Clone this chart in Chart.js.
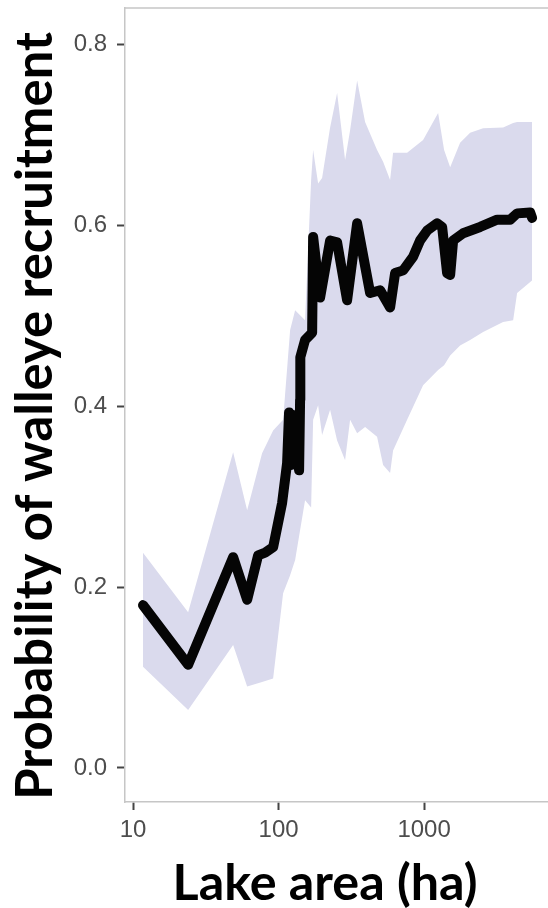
<!DOCTYPE html>
<html>
<head>
<meta charset="utf-8">
<script src="https://cdn.jsdelivr.net/npm/chart.js@4.4.1/dist/chart.umd.min.js"></script>
<style>
  html, body { margin: 0; padding: 0; background: #fff; overflow: hidden; }
  canvas { display: block; }
</style>
</head>
<body>
<canvas id="c" width="548" height="908"></canvas>
<script>
// Fitted recruitment probability along lake area (ha)
const curveArea = [11.7, 23.9, 48.7, 60.8, 72.3, 80.8, 91.7, 105.7, 114.4, 118, 121.9, 127.8, 138.3, 140.5, 141,
  152, 170, 172.7, 192.8, 225.9, 252.4, 295.6, 346.5, 425.6, 498.6, 583.7, 632, 717.4, 840, 938, 1049, 1228,
  1330, 1439, 1510, 1582, 1854, 2426, 3175, 3899, 4355, 5355, 5521];
const curveProb = [0.180, 0.114, 0.233, 0.186, 0.235, 0.238, 0.244, 0.293, 0.337, 0.393, 0.335, 0.390, 0.329, 0.407, 0.454,
  0.473, 0.481, 0.587, 0.520, 0.583, 0.581, 0.517, 0.602, 0.525, 0.528, 0.509, 0.547, 0.550, 0.565, 0.583, 0.594, 0.602,
  0.598, 0.547, 0.545, 0.583, 0.591, 0.598, 0.606, 0.606, 0.613, 0.614, 0.608];

// Confidence ribbon around the curve
const bandArea = [11.7, 23.9, 48.7, 60.8, 77, 91.7, 107.4, 120, 129.9, 152, 167.3, 172.7, 186.9, 199, 225.9, 252.4,
  286.4, 310, 346.5, 393, 475, 522.6, 583.7, 612, 764, 984, 1248, 1372, 1510, 1767, 2070, 2544, 3490, 4090, 4355, 5521];
const bandLow = [0.112, 0.064, 0.136, 0.090, 0.095, 0.099, 0.193, 0.213, 0.230, 0.296, 0.288, 0.385, 0.401, 0.368, 0.396, 0.362,
  0.340, 0.385, 0.370, 0.377, 0.366, 0.335, 0.326, 0.351, 0.385, 0.423, 0.440, 0.445, 0.456, 0.467, 0.473, 0.482, 0.493, 0.495, 0.525, 0.539];
const bandHigh = [0.238, 0.172, 0.349, 0.285, 0.348, 0.373, 0.385, 0.484, 0.506, 0.495, 0.650, 0.683, 0.646, 0.652, 0.708, 0.746,
  0.672, 0.705, 0.760, 0.714, 0.683, 0.670, 0.650, 0.680, 0.680, 0.694, 0.724, 0.683, 0.664, 0.691, 0.702, 0.707, 0.708, 0.713, 0.714, 0.714];

const xTicks = [10, 100, 1000];
const yTicks = [0, 0.2, 0.4, 0.6, 0.8];
const xTitle = 'Lake area (ha)';
const yTitle = 'Probability of walleye recruitment';

const pairs = (xs, ys) => xs.map((x, i) => ({ x, y: ys[i] }));

const titleFamily = 'Lato, "Open Sans", sans-serif';
function fitSize(ctx, text, width) {
  ctx.font = 'bold 100px ' + titleFamily;
  return 100 * width / ctx.measureText(text).width;
}

// Panel top edge and the two axis titles
const frame = {
  id: 'frame',
  afterDraw(chart) {
    const { ctx, chartArea: a } = chart;
    ctx.save();
    ctx.strokeStyle = '#c6c6c6';
    ctx.lineWidth = 1.5;
    ctx.beginPath();
    ctx.moveTo(a.left, a.top);
    ctx.lineTo(a.right, a.top);
    ctx.stroke();

    ctx.fillStyle = '#000';
    ctx.textAlign = 'center';
    ctx.textBaseline = 'alphabetic';
    let s = fitSize(ctx, xTitle, 305);
    ctx.font = 'bold ' + s + 'px ' + titleFamily;
    ctx.fillText(xTitle, a.left + 200, 900);

    s = fitSize(ctx, yTitle, 768);
    ctx.font = 'bold ' + s + 'px ' + titleFamily;
    ctx.translate(52, a.top + 408);
    ctx.rotate(-Math.PI / 2);
    ctx.fillText(yTitle, 0, 0);
    ctx.restore();
  }
};

const tickFont = { family: '"Liberation Sans", Arial, sans-serif', size: 24 };

new Chart(document.getElementById('c'), {
  type: 'line',
  data: {
    datasets: [
      {
        label: 'curve',
        data: pairs(curveArea, curveProb),
        borderColor: '#050505',
        borderWidth: 10,
        borderJoinStyle: 'round',
        borderCapStyle: 'round',
        pointRadius: 0,
        tension: 0,
        fill: false,
        order: 0
      },
      {
        label: 'lower',
        data: pairs(bandArea, bandLow),
        borderWidth: 0,
        borderColor: 'rgba(0,0,0,0)',
        pointRadius: 0,
        tension: 0,
        fill: false,
        order: 1
      },
      {
        label: 'upper',
        data: pairs(bandArea, bandHigh),
        borderWidth: 0,
        borderColor: 'rgba(0,0,0,0)',
        backgroundColor: '#dadaed',
        pointRadius: 0,
        tension: 0,
        fill: 1,
        order: 1
      }
    ]
  },
  options: {
    responsive: false,
    animation: false,
    devicePixelRatio: 1,
    layout: { padding: { top: 8, right: 0, left: 0, bottom: 0 } },
    plugins: {
      legend: { display: false },
      tooltip: { enabled: false },
      filler: { propagate: false }
    },
    scales: {
      x: {
        type: 'logarithmic',
        min: 8.8,
        max: 7100,
        afterFit(scale) {
          scale.height = 106;
          scale.paddingLeft = 0;
          scale.paddingRight = 0;
        },
        afterBuildTicks(scale) { scale.ticks = xTicks.map(v => ({ value: v })); },
        border: { display: true, color: '#c6c6c6', width: 1.5 },
        grid: { drawOnChartArea: false, drawTicks: true, tickLength: 8, tickColor: '#444', tickWidth: 2 },
        ticks: {
          autoSkip: false, maxRotation: 0, padding: 6,
          color: '#4d4d4d', font: tickFont,
          callback: v => String(v)
        }
      },
      y: {
        type: 'linear',
        min: -0.0376,
        max: 0.84,
        afterFit(scale) {
          scale.width = 125;
          scale.paddingTop = 0;
          scale.paddingBottom = 0;
        },
        afterBuildTicks(scale) { scale.ticks = yTicks.map(v => ({ value: v })); },
        border: { display: true, color: '#c6c6c6', width: 1.5 },
        grid: { drawOnChartArea: false, drawTicks: true, tickLength: 8, tickColor: '#444', tickWidth: 2 },
        ticks: {
          autoSkip: false, padding: 10,
          color: '#4d4d4d', font: tickFont,
          callback: v => v.toFixed(1)
        }
      }
    }
  },
  plugins: [frame]
});
</script>
</body>
</html>
